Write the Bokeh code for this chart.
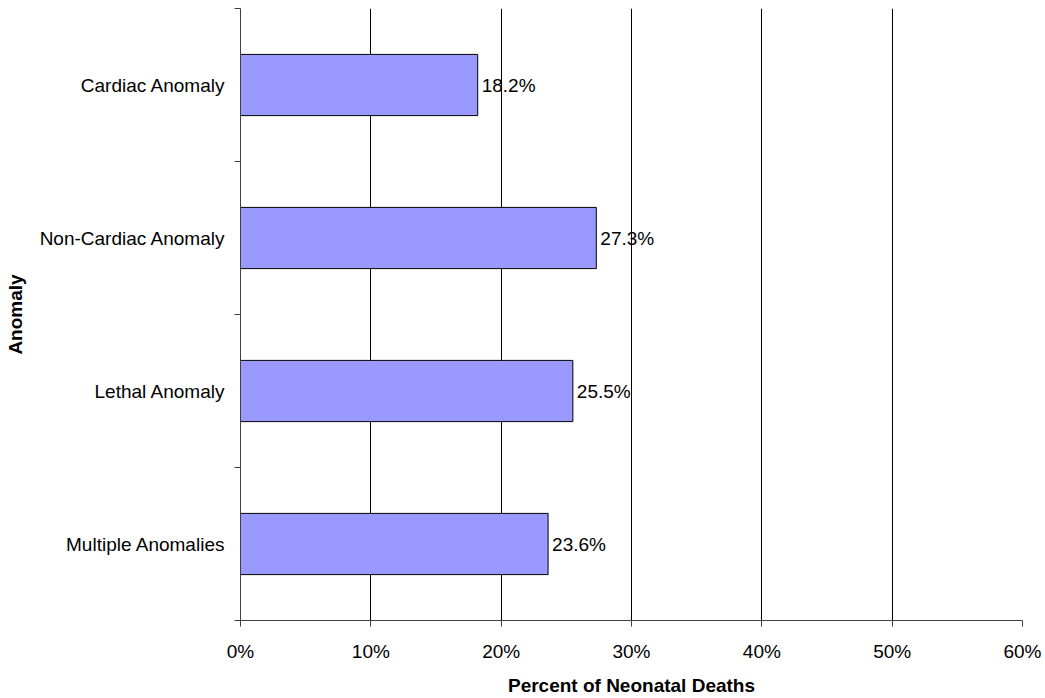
from bokeh.plotting import figure
from bokeh.models import ColumnDataSource, Range1d, FixedTicker, LinearAxis, Grid
from bokeh.core.properties import value
from bokeh.embed import file_html
from bokeh.resources import INLINE

# Neonatal deaths by anomaly type (percent)
categories = ["Cardiac Anomaly", "Non-Cardiac Anomaly", "Lethal Anomaly", "Multiple Anomalies"]
percents = [18.2, 27.3, 25.5, 23.6]
x_ticks = [0, 10, 20, 30, 40, 50, 60]
x_tick_labels = ["0%", "10%", "20%", "30%", "40%", "50%", "60%"]

FONT = "Liberation Sans"
FS = "19px"
AXIS_COLOR = "#404040"

n = len(categories)
centers = [n - i - 0.5 for i in range(n)]
source = ColumnDataSource(dict(
    y=centers,
    pct=percents,
    label=[f"{v:.1f}%" for v in percents],
))

p = figure(
    width=1045, height=698,
    x_range=Range1d(0, 60), y_range=Range1d(0, n),
    output_backend="svg", toolbar_location=None,
    x_axis_type=None, y_axis_type=None,
    min_border_left=240, min_border_right=23, min_border_top=8, min_border_bottom=73,
)
p.outline_line_color = None
p.background_fill_color = "white"
p.border_fill_color = "white"

# vertical gridlines at each 10%
p.add_layout(Grid(dimension=0, ticker=FixedTicker(ticks=x_ticks[1:]),
                  grid_line_color="black", grid_line_width=1))

p.hbar(y="y", right="pct", left=0, height=0.4, source=source,
       fill_color="#9999FF", line_color="black", line_width=1)

p.text(x="pct", y="y", text="label", source=source, x_offset=4,
       text_align="left", text_baseline="middle",
       text_font=value(FONT), text_font_size=FS, text_color="black")

# x axis: percent scale
xaxis = LinearAxis(ticker=FixedTicker(ticks=x_ticks))
xaxis.major_label_overrides = {t: l for t, l in zip(x_ticks, x_tick_labels)}
xaxis.axis_label = "Percent of Neonatal Deaths"
xaxis.axis_label_text_font = FONT
xaxis.axis_label_text_font_style = "bold"
xaxis.axis_label_text_font_size = FS
xaxis.axis_label_text_color = "black"
xaxis.axis_label_standoff = 10
xaxis.major_label_text_font = FONT
xaxis.major_label_text_font_size = FS
xaxis.major_label_text_color = "black"
xaxis.major_label_standoff = 14
xaxis.major_tick_out = 6
xaxis.major_tick_in = 0
xaxis.minor_tick_out = 0
xaxis.minor_tick_in = 0
xaxis.axis_line_color = AXIS_COLOR
xaxis.major_tick_line_color = AXIS_COLOR
p.add_layout(xaxis, "below")

# y axis: category names at band centres, tick marks at band edges
yaxis = LinearAxis(ticker=FixedTicker(ticks=centers, minor_ticks=list(range(n + 1))))
yaxis.major_label_overrides = {c: name for c, name in zip(centers, categories)}
yaxis.axis_label = "Anomaly"
yaxis.axis_label_text_font = FONT
yaxis.axis_label_text_font_style = "bold"
yaxis.axis_label_text_font_size = FS
yaxis.axis_label_text_color = "black"
yaxis.axis_label_standoff = 11
yaxis.major_label_text_font = FONT
yaxis.major_label_text_font_size = FS
yaxis.major_label_text_color = "black"
yaxis.major_label_standoff = 9
yaxis.major_tick_out = 0
yaxis.major_tick_in = 0
yaxis.minor_tick_out = 6
yaxis.minor_tick_in = 0
yaxis.axis_line_color = AXIS_COLOR
yaxis.minor_tick_line_color = AXIS_COLOR
p.add_layout(yaxis, "left")

open("out.html", "w").write(file_html(p, INLINE))
